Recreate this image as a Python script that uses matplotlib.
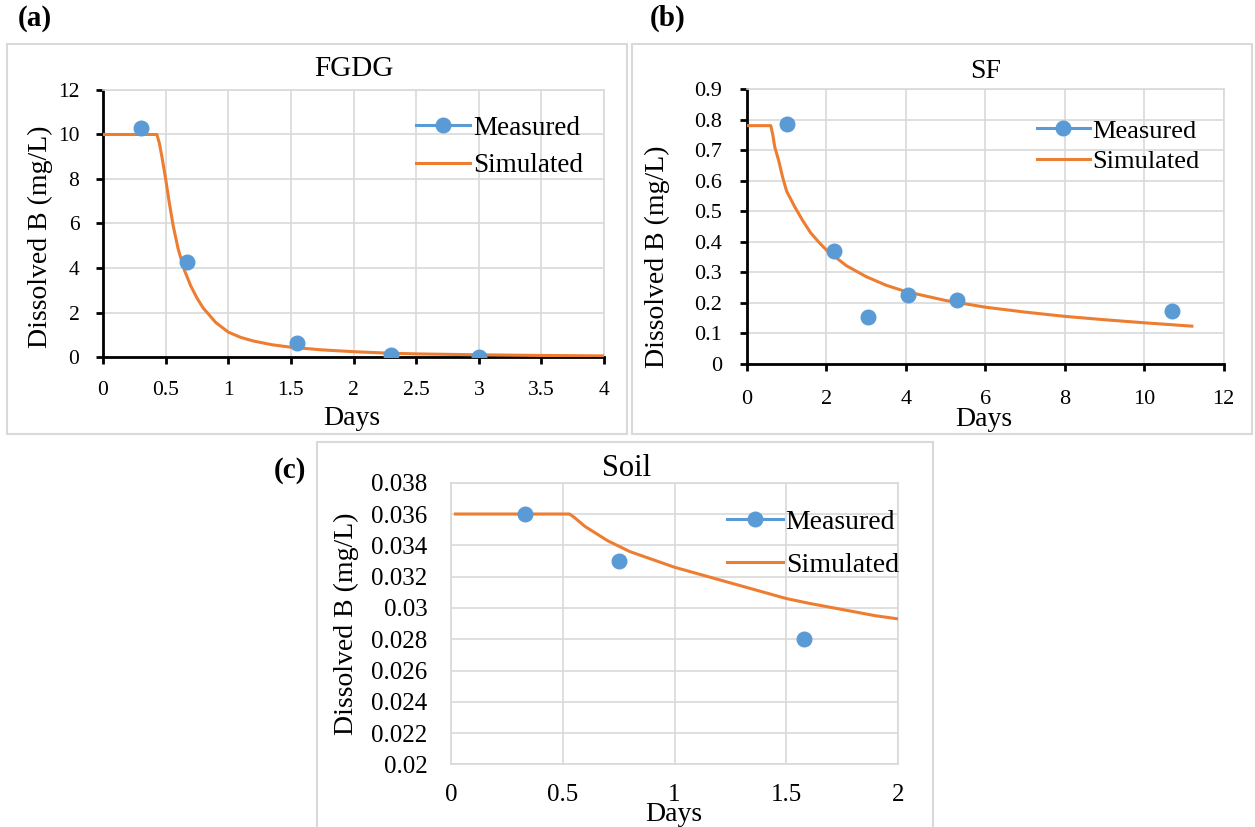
import matplotlib.pyplot as plt
from matplotlib.patches import Rectangle

plt.rcParams['font.family'] = ['Liberation Serif', 'DejaVu Serif']

BLUE = '#5B9BD5'
ORANGE = '#ED7D31'
GRID = '#D9D9D9'

# (a) FGDG
meas_a_x = [0.30, 0.67, 1.55, 2.30, 3.00]
meas_a_y = [10.3, 4.25, 0.62, 0.08, 0.02]
sim_a_x = [0, 0.43, 0.45, 0.47, 0.50, 0.53, 0.56, 0.60, 0.65, 0.70, 0.75, 0.80, 0.90, 1.0,
           1.1, 1.2, 1.35, 1.5, 1.75, 2.0, 2.25, 2.5, 3.0, 3.5, 4.0]
sim_a_y = [10, 10, 9.6, 9.0, 8.0, 6.9, 5.9, 4.85, 3.9, 3.2, 2.65, 2.2, 1.55, 1.12,
           0.88, 0.72, 0.55, 0.44, 0.32, 0.24, 0.18, 0.14, 0.10, 0.07, 0.05]

# (b) SF
meas_b_x = [1.0, 2.2, 3.05, 4.05, 5.3, 10.7]
meas_b_y = [0.785, 0.37, 0.155, 0.225, 0.21, 0.175]
sim_b_x = [0, 0.6, 0.65, 0.7, 0.8, 0.9, 1.0, 1.2, 1.4, 1.6, 1.8, 2.0, 2.5, 3.0, 3.5,
           4.0, 5.0, 6.0, 7.0, 8.0, 9.0, 10.0, 11.2]
sim_b_y = [0.78, 0.78, 0.75, 0.71, 0.665, 0.61, 0.565, 0.515, 0.47, 0.43, 0.40, 0.373,
           0.322, 0.286, 0.258, 0.237, 0.208, 0.186, 0.170, 0.156, 0.145, 0.135, 0.124]

# (c) Soil
meas_c_x = [0.33, 0.75, 1.58]
meas_c_y = [0.0360, 0.0330, 0.0280]
sim_c_x = [0.02, 0.53, 0.55, 0.60, 0.70, 0.80, 0.90, 1.0, 1.1, 1.2, 1.3, 1.4, 1.5,
           1.6, 1.75, 1.9, 2.0]
sim_c_y = [0.0360, 0.0360, 0.0358, 0.0352, 0.0343, 0.0336, 0.0331, 0.0326, 0.0322,
           0.0318, 0.0314, 0.0310, 0.0306, 0.0303, 0.0299, 0.0295, 0.0293]


def fmt(v):
    return f"{v:g}"


fig = plt.figure(figsize=(12.55, 8.27), dpi=100)

# panel frames (pixels -> figure fraction)
W, H = 1255, 827
for (x0, y0, x1, y1) in [(7, 44, 627, 434), (632, 44, 1252, 434), (317, 442, 933, 830)]:
    fig.patches.append(Rectangle((x0 / W, 1 - y1 / H), (x1 - x0) / W, (y1 - y0) / H,
                                 transform=fig.transFigure, fill=False,
                                 edgecolor=GRID, lw=1.5))


def panel(rect, mx, my, sx, sy, xlim, ylim, xt, yt, title, title_fs, title_x, title_pad,
          dark, tick_fs, ylab_pos, xlab_pos, leg_fs, leg_anchor, leg_space, xpad, ypad):
    ax = fig.add_axes(rect)
    h_sim, = ax.plot(sx, sy, color=ORANGE, lw=2.2, zorder=3)
    ax.plot(mx, my, 'o', color=BLUE, ms=10.5, zorder=4)
    ax.set_xlim(xlim)
    ax.set_ylim(ylim)
    ax.set_xticks(xt)
    ax.set_yticks(yt)
    ax.set_xticklabels([fmt(v) for v in xt])
    ax.set_yticklabels([fmt(v) for v in yt])
    ax.grid(True, color=GRID, lw=1.2)
    ax.set_axisbelow(True)
    for s in ax.spines.values():
        s.set_color(GRID)
        s.set_linewidth(1.2)
    if dark:
        for side in ('left', 'bottom'):
            ax.spines[side].set_color('black')
            ax.spines[side].set_linewidth(2)
        ax.tick_params(direction='out', length=5, width=2, labelsize=tick_fs)
    else:
        ax.tick_params(length=0, labelsize=tick_fs)
    ax.tick_params(axis='x', pad=xpad)
    ax.tick_params(axis='y', pad=ypad)
    ax.set_title(title, fontsize=title_fs, pad=title_pad, x=title_x)
    ax.set_ylabel('Dissolved B (mg/L)', fontsize=20)
    ax.yaxis.set_label_coords(*ylab_pos)
    ax.set_xlabel('Days', fontsize=20)
    ax.xaxis.set_label_coords(*xlab_pos)
    # Excel style legend entry: line with marker
    h_meas, = ax.plot([], [], '-o', color=BLUE, lw=2.2, ms=10.5)
    ax.legend([h_meas, h_sim], ['Measured', 'Simulated'], loc='upper left',
              bbox_to_anchor=leg_anchor, frameon=False, fontsize=leg_fs,
              handlelength=2.0, handletextpad=0.1, labelspacing=leg_space,
              borderaxespad=0, borderpad=0)
    return ax


ax_a = panel([0.0821, 0.5683, 0.3992, 0.3229], meas_a_x, meas_a_y, sim_a_x, sim_a_y,
             (0, 4), (0, 12), [0, 0.5, 1, 1.5, 2, 2.5, 3, 3.5, 4], [0, 2, 4, 6, 8, 10, 12],
             'FGDG', 21, 0.5, 10, True, 15.5, (-0.1, 0.45), (0.497, -0.185),
             19.5, (0.625, 0.903), 0.45, 12.5, 12)

ax_b = panel([0.5952, 0.5598, 0.3798, 0.3326], meas_b_x, meas_b_y, sim_b_x, sim_b_y,
             (0, 12), (0, 0.9), [0, 2, 4, 6, 8, 10, 12],
             [0, 0.1, 0.2, 0.3, 0.4, 0.5, 0.6, 0.7, 0.8, 0.9],
             'SF', 20, 0.5, 8, True, 16, (-0.162, 0.39), (0.497, -0.156),
             19, (0.608, 0.89), 0.26, 13.5, 13)

ax_c = panel([0.3594, 0.0756, 0.3562, 0.3407], meas_c_x, meas_c_y, sim_c_x, sim_c_y,
             (0, 2), (0.02, 0.038), [0, 0.5, 1, 1.5, 2],
             [0.02, 0.022, 0.024, 0.026, 0.028, 0.03, 0.032, 0.034, 0.036, 0.038],
             'Soil', 22, 0.392, 4.5, False, 18, (-0.205, 0.50), (0.498, -0.132),
             20, (0.618, 0.904), 0.63, 14, 17)

fig.text(35 / W, 1 - 18 / H, '(a)', fontsize=21, fontweight='bold', ha='center', va='center')
fig.text(668 / W, 1 - 18 / H, '(b)', fontsize=21, fontweight='bold', ha='center', va='center')
fig.text(290 / W, 1 - 470 / H, '(c)', fontsize=21, fontweight='bold', ha='center', va='center')

fig.savefig('out.png', dpi=100)
